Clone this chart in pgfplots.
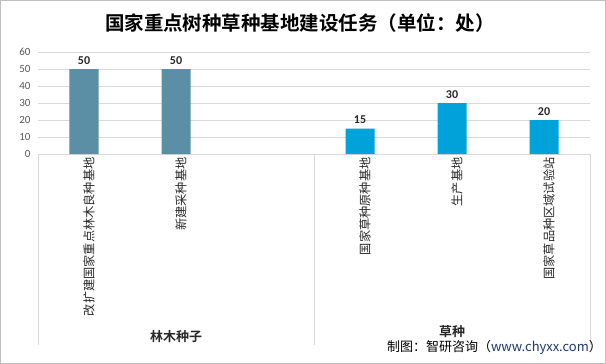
\documentclass[border=0pt]{standalone}
\usepackage{fontspec}
\usepackage{pgfplots}
\pgfplotsset{compat=1.18}
\setmainfont{Carlito}
\newfontfamily\cjk{Noto Sans CJK SC}[BoldFont={Noto Sans CJK SC Bold}]
\definecolor{barA}{RGB}{91,143,166}
\definecolor{barB}{RGB}{0,162,218}
\definecolor{gridc}{RGB}{217,217,217}
\definecolor{tickc}{RGB}{89,89,89}
\definecolor{txt}{RGB}{40,40,40}
\definecolor{navy}{RGB}{32,56,110}
\begin{document}
\begin{tikzpicture}[x=1pt,y=1pt]
\useasboundingbox (-38,-210) rectangle (568,154);
\begin{axis}[scale only axis,
  width=552pt, height=102pt,
  xmin=-0.5, xmax=5.5, ymin=0, ymax=60,
  ytick={0,10,...,60}, ymajorgrids, grid style={gridc, line width=0.8pt},
  axis x line*=bottom, axis y line*=left,
  y axis line style={draw=none}, x axis line style={gridc, line width=0.8pt, -},
  major tick length=0,
  /pgf/number format/assume math mode=true,
  yticklabel style={font=\fontsize{11}{12}\selectfont, text=tickc, xshift=-4pt},
  xtick={0,1,3,4,5},
  xticklabels={改扩建国家重点林木良种基地,新建采种基地,国家草种原种基地,生产基地,国家草品种区域试验站},
  xticklabel style={rotate=90, anchor=east, font=\cjk\fontsize{12.2}{13}\selectfont, text=txt, yshift=-5pt},
  clip=false,
  ybar, bar width=29pt,
  nodes near coords,
  every node near coord/.append style={font=\bfseries\fontsize{12}{13}\selectfont, text=txt, yshift=1pt},
]
\addplot[fill=barA, draw=none, bar shift=0pt] coordinates {(0,50) (1,50)};
\addplot[fill=barB, draw=none, bar shift=0pt] coordinates {(3,15) (4,30) (5,20)};
\coordinate (g0) at (axis cs:-0.5,0);
\coordinate (g1) at (axis cs:2.5,0);
\coordinate (g2) at (axis cs:5.5,0);
\end{axis}
\draw[gridc, line width=0.8pt] (g0) -- ++(0,-191);
\draw[gridc, line width=0.8pt] (g1) -- ++(0,-191);
\draw[gridc, line width=0.8pt] (g2) -- ++(0,-191);
\begin{scope}[shift={(-38,-210)}]
\draw[gray!50] (0.5,0.5) rectangle (605.5,363.5);
\node[font=\cjk\bfseries\fontsize{19.5}{21}\selectfont, text=black] at (300,341) {国家重点树种草种基地建设任务（单位：处）};
\node[font=\cjk\bfseries\fontsize{13}{14}\selectfont, text=txt] at (176,27) {林木种子};
\node[font=\cjk\bfseries\fontsize{13}{14}\selectfont, text=txt] at (452,32) {草种};
\node[anchor=east, inner sep=0pt, font=\cjk\fontsize{13}{14}\selectfont, text=black] at (602,17) {制图：智研咨询（\textcolor{navy}{www.chyxx.com}）};
\end{scope}
\end{tikzpicture}
\end{document}
